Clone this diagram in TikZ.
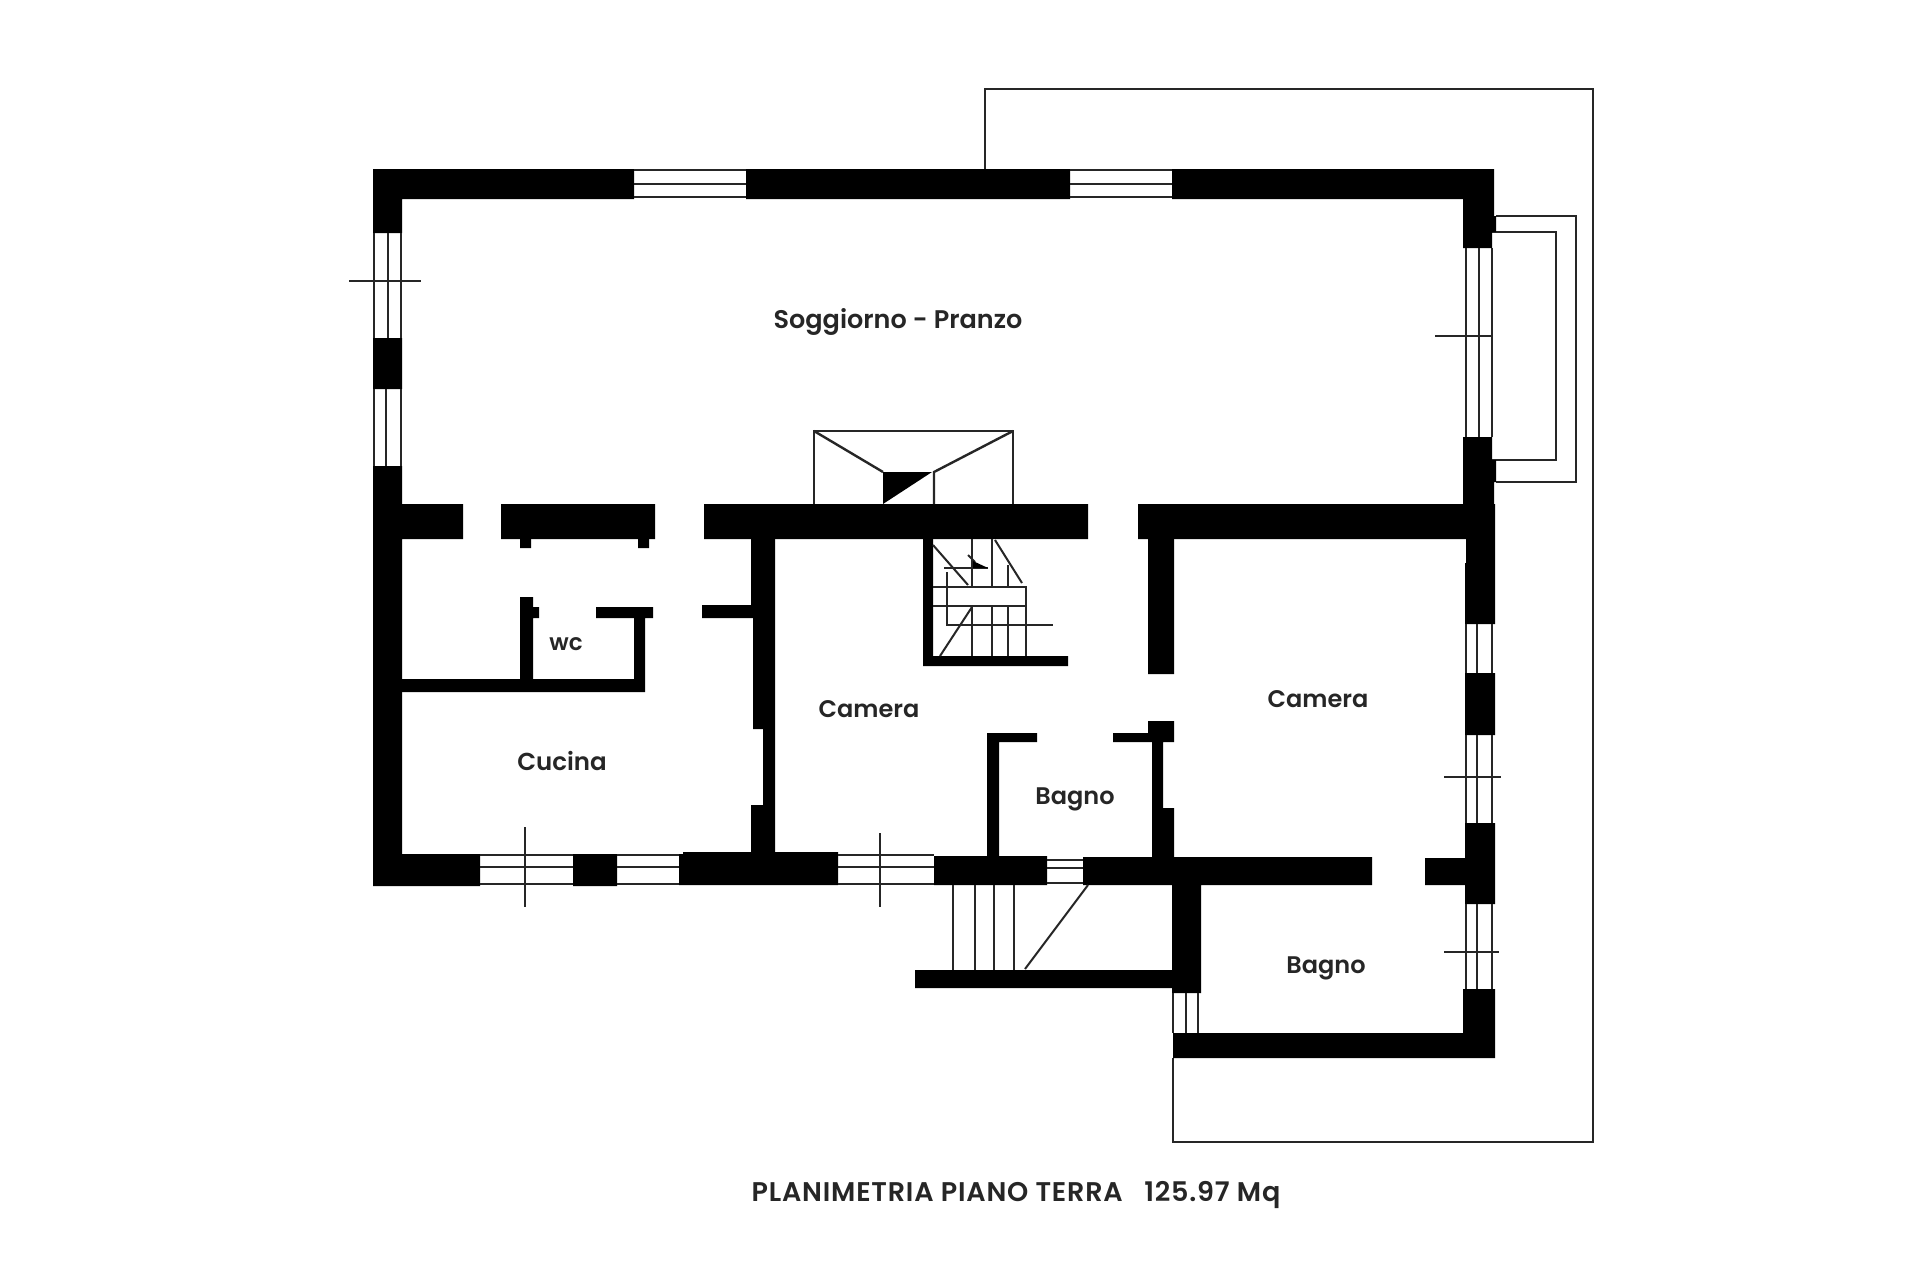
\documentclass[tikz,border=0pt]{standalone}
\usepackage{fontspec}
\setmainfont{Poppins SemiBold}
\begin{document}
\begin{tikzpicture}[x=1pt,y=-1pt,
  wall/.style={fill=black},
  thin line/.style={draw=black!85,line width=2.4pt},
  fine line/.style={draw=black!85,line width=2pt},
  room/.style={anchor=base,text=black!85,font=\fontsize{24}{28}\selectfont,inner sep=0pt},
  caption/.style={anchor=base,text=black!85,font=\fontsize{27}{28}\selectfont\addfontfeature{LetterSpace=3},inner sep=0pt}]
\useasboundingbox (0,0) rectangle (1920,1280);
\fill[white] (0,0) rectangle (1920,1280);
% terrace and balcony outlines
\draw[thin line] (985,169) -- (985,89) -- (1593,89) -- (1593,1142) -- (1173,1142) -- (1173,1058);
\draw[thin line] (1496,216) -- (1576,216) -- (1576,482) -- (1496,482);
\draw[thin line] (1492,232) -- (1556,232) -- (1556,460) -- (1492,460);
% outer and main walls
\fill[wall] (373,169) rectangle (634,199) (746,169) rectangle (1070,199) (1172,169) rectangle (1494,199)
 (373,199) rectangle (402,233) (373,338) rectangle (402,389) (373,466) rectangle (402,886)
 (402,504) rectangle (463,539) (501,504) rectangle (655,539) (704,504) rectangle (1088,539) (1138,504) rectangle (1466,539)
 (1463,199) rectangle (1494,216) (1463,216) rectangle (1496,232) (1463,232) rectangle (1492,248)
 (1463,437) rectangle (1492,460) (1463,460) rectangle (1496,482) (1463,482) rectangle (1494,504)
 (1466,504) rectangle (1495,563) (1465,563) rectangle (1495,624)
 (1465,673) rectangle (1495,735) (1465,823) rectangle (1495,904) (1463,989) rectangle (1495,1058)
 (1173,1033) rectangle (1463,1058)
 (402,854) rectangle (480,886) (573,854) rectangle (617,886) (679,854) rectangle (838,885) (683,852) rectangle (838,854)
 (934,856) rectangle (1047,885) (1083,857) rectangle (1372,885) (1425,858) rectangle (1466,885)
 (1172,885) rectangle (1201,993);
% inner walls, kitchen side
\fill[wall] (520,539) rectangle (531,548) (638,539) rectangle (649,548)
 (520,597) rectangle (533,692) (531,607) rectangle (539,618)
 (596,607) rectangle (653,618) (634,618) rectangle (645,692)
 (402,679) rectangle (645,692) (702,605) rectangle (753,618)
 (751,539) rectangle (775,605) (753,605) rectangle (775,729) (763,729) rectangle (775,805) (751,805) rectangle (775,854);
% inner walls, stairs and bath
\fill[wall] (923,539) rectangle (933,666) (923,656) rectangle (1068,666)
 (1148,539) rectangle (1174,674)
 (987,733) rectangle (999,857) (987,733) rectangle (1037,742)
 (1113,733) rectangle (1152,742) (1148,721) rectangle (1174,742)
 (1152,742) rectangle (1163,858) (1152,808) rectangle (1174,858)
 (915,970) rectangle (1172,988);
% top windows
\foreach \a/\b in {634/746,1070/1172}
  \draw[thin line] (\a,170) -- (\b,170) (\a,184) -- (\b,184) (\a,197) -- (\b,197);
% left windows
\draw[thin line] (374,233) -- (374,338) (388,233) -- (388,338) (401,233) -- (401,338);
\draw[thin line] (374,389) -- (374,466) (386,389) -- (386,466) (401,389) -- (401,466);
\draw[thin line] (349,281) -- (421,281);
% right windows
\draw[thin line] (1466,248) -- (1466,437) (1479,248) -- (1479,437) (1492,248) -- (1492,437);
\draw[thin line] (1435,336) -- (1492,336);
\foreach \a/\b in {624/673,735/823,904/989}
  \draw[thin line] (1466,\a) -- (1466,\b) (1477,\a) -- (1477,\b) (1492,\a) -- (1492,\b);
\draw[thin line] (1444,777) -- (1501,777);
\draw[thin line] (1444,952) -- (1499,952);
% bottom windows
\foreach \a/\b in {480/573,617/679,838/934}
  \draw[thin line] (\a,855) -- (\b,855) (\a,867) -- (\b,867) (\a,884) -- (\b,884);
\draw[thin line] (1047,860) -- (1083,860) (1047,868) -- (1083,868) (1047,883) -- (1083,883);
\draw[thin line] (525,827) -- (525,907);
\draw[thin line] (880,833) -- (880,907);
% bath window, lower
\draw[thin line] (1173,993) -- (1173,1033) (1186,993) -- (1186,1033) (1198,993) -- (1198,1033);
% chimney
\draw[thin line] (814,504) -- (814,431) -- (1013,431) -- (1013,504);
\draw[thin line] (814,431) -- (883,472) (1013,431) -- (934,472) -- (934,504);
\fill[wall] (883,472) -- (932,472) -- (883,504) -- cycle;
% inner stair
\draw[thin line] (933,587) -- (1026,587) -- (1026,656) (933,606) -- (1026,606);
\draw[thin line] (972,539) -- (972,587) (992,539) -- (992,587) (1008,565) -- (1008,587)
 (972,606) -- (972,656) (992,606) -- (992,656) (1008,606) -- (1008,656);
\draw[fine line] (933,545) -- (968,585) (995,540) -- (1022,583) (972,607) -- (940,656);
\draw[thin line] (944,568) -- (988,568) (947,572) -- (947,625) -- (1053,625);
\draw[fine line] (968,555) -- (975,562);
\fill[wall] (973,561) -- (988,568) -- (973,568) -- cycle;
% outer stair
\draw[thin line] (953,885) -- (953,970) (975,885) -- (975,970) (994,885) -- (994,970) (1014,885) -- (1014,970);
\draw[fine line] (1088,885) -- (1025,969);
% labels
\node[room,font=\fontsize{25.5}{28}\selectfont] (soggiorno) at (898,328) {Soggiorno - Pranzo};
\node[room,font=\fontsize{23}{26}\selectfont] (wc) at (566,650) {wc};
\node[room,font=\fontsize{24.5}{28}\selectfont] (cucina) at (562,770) {Cucina};
\node[room] (camera1) at (869,717) {Camera};
\node[room] (camera2) at (1318,707) {Camera};
\node[room] (bagno1) at (1075,804) {Bagno};
\node[room] (bagno2) at (1326,973) {Bagno};
\node[caption] (title) at (1016,1201) {PLANIMETRIA PIANO TERRA\hspace{0.8em}125.97 Mq};
\end{tikzpicture}
\end{document}
